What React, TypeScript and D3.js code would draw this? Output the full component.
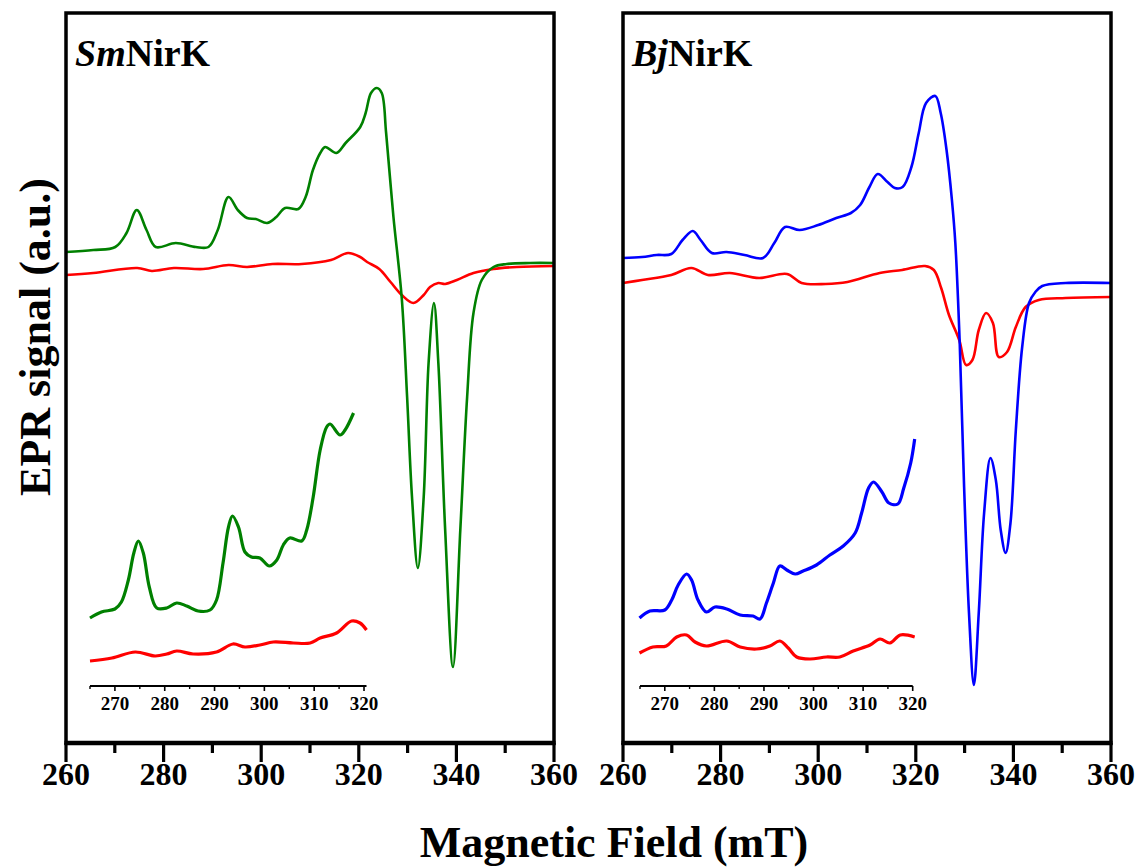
import React from 'react';
import * as d3 from 'd3';

// EPR spectra, [field (mT), signal (a.u.)]
const smMain = [
  [260, 49.1], [265.6, 49.3], [270.1, 49.6], [272.4, 51.0], [274.5, 53.3], [276.5, 51.3],
  [278.4, 49.6], [282.5, 50.0], [286.6, 49.6], [289.2, 49.6], [291.1, 51.3], [293.3, 54.6],
  [295.2, 53.3], [297.1, 52.5], [298.9, 52.4], [301.2, 52.0], [303.1, 52.6], [304.9, 53.5],
  [307.6, 53.4], [309.1, 54.6], [310.6, 57.3], [312.1, 59.0], [313.1, 59.6], [315.4, 59.0],
  [317.3, 60.0], [320.3, 61.6], [321.4, 63.0], [322.5, 65.0], [323.7, 65.5], [324.7, 65.0],
  [325.6, 61.0], [327.1, 52.6], [328.8, 44.5], [329.9, 34.6], [330.9, 24.6], [332.1, 17.5],
  [333.3, 24.6], [334.3, 38.0], [335.4, 44.0], [336.3, 38.0], [337.7, 21.3], [339.3, 7.6],
  [340.8, 21.3], [342.2, 34.6], [343.5, 43.0], [345.2, 46.3], [347.6, 47.6], [350.3, 47.9],
  [355.1, 48.0], [360, 48.0],
];
const smMainRed = [
  [260, 46.8], [265.6, 47.0], [274.6, 47.5], [277.6, 47.2], [282.1, 47.5], [288.1, 47.4],
  [293.3, 47.8], [297.1, 47.6], [302.3, 47.9], [308.3, 47.9], [314.3, 48.3], [317.8, 49.0],
  [320.3, 48.6], [321.7, 48.1], [324.2, 47.4], [326.5, 46.1], [328.8, 44.8], [331.2, 44.0],
  [333.3, 44.8], [334.6, 45.6], [336.3, 46.0], [337.7, 45.9], [340.1, 46.3], [343.5, 47.0],
  [347.6, 47.4], [352.4, 47.6], [360, 47.7],
];
const smInset = [
  [265.0, 12.5], [267.3, 13.1], [270, 13.4], [271.3, 14.1], [272.7, 16.3], [273.8, 19.0],
  [274.7, 20.2], [275.7, 19.0], [276.9, 15.6], [278.4, 13.5], [280.4, 13.5], [282.4, 14.0],
  [284.4, 13.7], [286.7, 13.2], [289.1, 13.3], [290.4, 14.3], [291.7, 18.0], [292.8, 21.6],
  [293.6, 22.7], [294.8, 21.6], [296.1, 19.1], [297.4, 18.6], [299.1, 18.5], [301, 17.7],
  [302.5, 18.3], [303.8, 19.8], [305.1, 20.5], [307.5, 20.2], [308.5, 21.3], [309.8, 24.6],
  [311.2, 29.3], [312.5, 31.6], [313.2, 31.9], [315.2, 30.8], [316.2, 31.3], [317.9, 33.0],
];
const smInsetRed = [
  [265, 8.2], [269.4, 8.5], [274.1, 9.1], [278.1, 8.7], [280.4, 8.9], [282.4, 9.2],
  [285.7, 8.9], [290.4, 9.1], [293.7, 9.9], [296.1, 9.6], [299.1, 9.8], [301.8, 10.1],
  [305.8, 10.0], [309.2, 10.0], [311.2, 10.5], [314.5, 11.0], [317.5, 12.2], [319.2, 12.0],
  [320.5, 11.3],
];
const bjMain = [
  [260, 48.5], [263.9, 48.6], [266.9, 48.8], [269.9, 48.9], [272.2, 50.3], [274.3, 51.2],
  [275.9, 50.3], [278.2, 49.0], [281.2, 49.1], [284.9, 48.8], [288.7, 48.5], [291, 50.0],
  [293.2, 51.6], [296.2, 51.3], [300, 51.8], [303.7, 52.5], [306.7, 53.0], [308.6, 53.8],
  [310.5, 55.6], [312.2, 56.9], [314.2, 56.1], [315.7, 55.5], [317.3, 55.6], [319.1, 57.6],
  [320.6, 61.0], [322.1, 64.0], [324, 64.7], [325.1, 63.0], [326.3, 59.3], [327.4, 54.3],
  [328.1, 50.0], [329.0, 40.0], [329.9, 25.6], [330.9, 13.0], [331.9, 5.8], [332.9, 13.0],
  [334, 23.0], [335.3, 28.5], [336.4, 26.3], [337.4, 21.3], [338.4, 19.0], [339.4, 22.0],
  [340.5, 31.3], [341.8, 39.6], [343.2, 44.0], [344.5, 45.1], [345.9, 45.7], [350.7, 46.0],
  [360, 46.0],
];
const bjMainRed = [
  [260, 46.0], [263.9, 46.3], [269.9, 46.8], [274, 47.5], [277.4, 46.8], [281.9, 47.0],
  [287.9, 46.5], [293.6, 46.9], [296.6, 46.0], [301.5, 45.9], [306, 46.1], [312.6, 47.0],
  [317.2, 47.3], [321.9, 47.7], [323.7, 47.3], [325.2, 45.5], [326.8, 42.8], [328.9, 40.3],
  [330.3, 37.8], [331.6, 38.3], [332.9, 41.3], [334.4, 43.0], [335.8, 42.0], [337, 38.6],
  [338.7, 39.1], [340.5, 41.6], [342.5, 43.6], [345.2, 44.3], [350.7, 44.5], [360, 44.6],
];
const bjInset = [
  [264.9, 12.5], [267, 13.2], [270, 13.3], [271.4, 14.3], [272.7, 15.8], [274.4, 16.9],
  [275.4, 16.3], [276.7, 14.3], [278.4, 13.1], [280.1, 13.6], [282.5, 13.4], [285.2, 12.8],
  [287.8, 12.7], [289.2, 12.4], [290.5, 14.0], [291.9, 16.0], [293.2, 17.7], [294.6, 17.3],
  [296.3, 16.9], [297.9, 17.2], [300.6, 17.8], [303.3, 18.8], [306, 19.7], [308.4, 21.0],
  [309.7, 23.0], [311.1, 25.5], [312.1, 26.1], [313.8, 25.1], [315.2, 24.0], [317, 23.9],
  [318.2, 25.5], [319.6, 28.0], [320.4, 30.4],
];
const bjInsetRed = [
  [264.9, 9.0], [267.6, 9.6], [270.3, 9.7], [272.4, 10.6], [274.4, 10.8], [276.1, 10.1],
  [278.4, 9.7], [282.5, 10.2], [285.2, 9.6], [288.5, 9.4], [291.2, 9.7], [293.2, 10.2],
  [294.9, 9.5], [296.6, 8.6], [299.3, 8.4], [302.6, 8.6], [305.3, 8.6], [308, 9.2],
  [311.4, 9.8], [313.4, 10.4], [315.4, 10.0], [317.5, 10.8], [320.4, 10.6],
];

const mainTicks = [260, 280, 300, 320, 340, 360];
const mainMinor = [270, 290, 310, 330, 350];
const insetTicks = [270, 280, 290, 300, 310, 320];
const insetMinor = [265, 275, 285, 295, 305, 315];

const W = 1141;
const H = 867;
const TOP = 13;
const BOTTOM = 743;
const FONT = '"Liberation Serif", "Times New Roman", serif';

type Pt = number[];

const y = d3.scaleLinear().domain([0, 73]).range([BOTTOM, TOP]);

function Trace({ data, x, color, width }: { data: Pt[]; x: d3.ScaleLinear<number, number>; color: string; width: number }) {
  const line = d3.line<Pt>()
    .x((d) => x(d[0]))
    .y((d) => y(d[1]))
    .curve(d3.curveCatmullRom.alpha(0.5));
  return <path d={line(data) || ''} fill="none" stroke={color} strokeWidth={width} strokeLinejoin="round" />;
}

function Panel({ x0, x1, label, it, main, mainRed, inset, insetRed, color, insetRange, insetDomain }: any) {
  const x = d3.scaleLinear().domain([260, 360]).range([x0, x1]);
  const xi = d3.scaleLinear().domain(insetDomain).range(insetRange);
  const iy = 686;
  return (
    <g>
      <Trace data={mainRed} x={x} color="#ff0000" width={2.6} />
      <Trace data={main} x={x} color={color} width={2.6} />
      <Trace data={insetRed} x={xi} color="#ff0000" width={3.2} />
      <Trace data={inset} x={xi} color={color} width={3.2} />
      {/* inset axis */}
      <line x1={xi.range()[0]} x2={xi.range()[1]} y1={iy} y2={iy} stroke="#000" strokeWidth={2} />
      {insetTicks.map((t) => (
        <g key={t}>
          <line x1={xi(t)} x2={xi(t)} y1={iy} y2={iy + 5} stroke="#000" strokeWidth={1.6} />
          <text x={xi(t)} y={iy + 24} textAnchor="middle" fontFamily={FONT} fontWeight="bold" fontSize={19}>{t}</text>
        </g>
      ))}
      {insetMinor.map((t) => (
        <line key={t} x1={xi(t)} x2={xi(t)} y1={iy} y2={iy + 3} stroke="#000" strokeWidth={1.4} />
      ))}
      {/* frame */}
      <rect x={x0} y={TOP} width={x1 - x0} height={BOTTOM - TOP} fill="none" stroke="#000" strokeWidth={3.5} />
      <line x1={x0 - 1.5} x2={x1 + 1.5} y1={BOTTOM} y2={BOTTOM} stroke="#000" strokeWidth={4.5} />
      {mainTicks.map((t) => (
        <g key={t}>
          <line x1={x(t)} x2={x(t)} y1={BOTTOM} y2={BOTTOM + 19} stroke="#000" strokeWidth={3.2} />
          <text x={x(t)} y={BOTTOM + 42} textAnchor="middle" fontFamily={FONT} fontWeight="bold" fontSize={32}>{t}</text>
        </g>
      ))}
      {mainMinor.map((t) => (
        <line key={t} x1={x(t)} x2={x(t)} y1={BOTTOM} y2={BOTTOM + 10} stroke="#000" strokeWidth={3.2} />
      ))}
      <text x={x0 + 9} y={66} fontFamily={FONT} fontWeight="bold" fontSize={38}>
        <tspan fontStyle="italic">{it}</tspan>{label}
      </text>
    </g>
  );
}

export default function App() {
  return (
    <svg width={W} height={H} style={{ position: 'absolute', left: 0, top: 0, background: '#fff' }}>
      <Panel x0={66} x1={554} it="Sm" label="NirK" main={smMain} mainRed={smMainRed}
        inset={smInset} insetRed={smInsetRed} color="#008000"
        insetDomain={[265, 320.5]} insetRange={[90, 366.5]} />
      <Panel x0={623} x1={1111} it="Bj" label="NirK" main={bjMain} mainRed={bjMainRed}
        inset={bjInset} insetRed={bjInsetRed} color="#0000ff"
        insetDomain={[265, 320]} insetRange={[640, 912.7]} />
      <text transform="translate(50,337) rotate(-90)" textAnchor="middle" fontFamily={FONT}
        fontWeight="bold" fontSize={44}>EPR signal (a.u.)</text>
      <text x={614} y={857} textAnchor="middle" fontFamily={FONT} fontWeight="bold" fontSize={44}>
        Magnetic Field (mT)
      </text>
    </svg>
  );
}
